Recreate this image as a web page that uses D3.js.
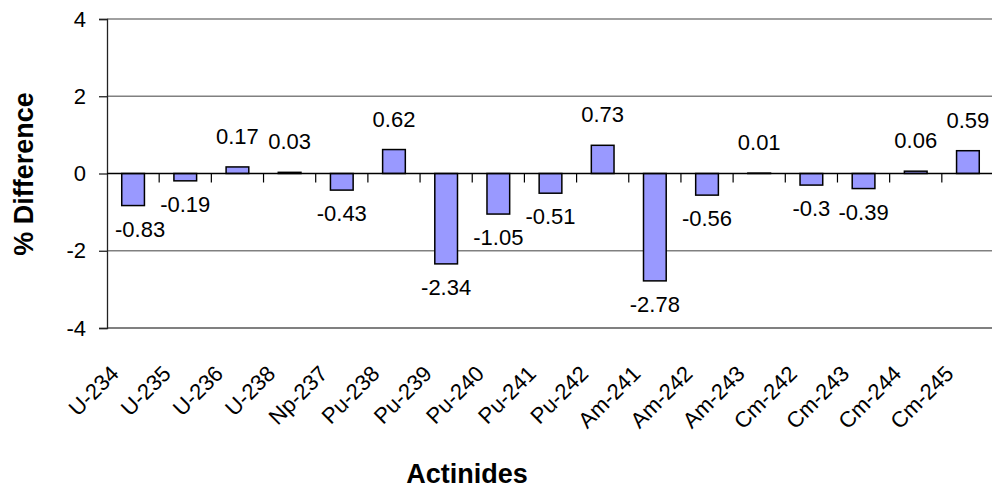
<!DOCTYPE html>
<html><head><meta charset="utf-8">
<script src="https://cdn.jsdelivr.net/npm/d3@7"></script>
<style>
body{margin:0;background:#fff;}
text{font-family:"Liberation Sans",Arial,sans-serif;}
</style></head>
<body><svg id="c" width="992" height="489"></svg>
<script>
const categories = ["U-234","U-235","U-236","U-238","Np-237","Pu-238","Pu-239","Pu-240","Pu-241","Pu-242","Am-241","Am-242","Am-243","Cm-242","Cm-243","Cm-244","Cm-245"];
const values = [-0.83,-0.19,0.17,0.03,-0.43,0.62,-2.34,-1.05,-0.51,0.73,-2.78,-0.56,0.01,-0.3,-0.39,0.06,0.59];
const yTicks = [-4,-2,0,2,4];
const xTitle = "Actinides";
const yTitle = "% Difference";

const svg = d3.select("#c");
const L = 107, R = 994, T = 19, B = 328;
const FS = 22;
const x = d3.scaleBand().domain(categories).range([L, R]).paddingInner(0.565).paddingOuter(0.2825);
const step = x.step();
const y = d3.scaleLinear().domain([-4, 4]).range([B, T]);

// gridlines
svg.append("g").selectAll("line").data(yTicks.filter(d => d !== 0)).join("line")
  .attr("x1", L).attr("x2", R).attr("y1", d => y(d)).attr("y2", d => y(d))
  .attr("stroke", "#808080").attr("stroke-width", d => d === -4 ? 2 : 1.3);

// bars
svg.append("g").selectAll("rect").data(values).join("rect")
  .attr("x", (d, i) => x(categories[i]))
  .attr("width", x.bandwidth())
  .attr("y", d => Math.min(y(d), y(0)))
  .attr("height", d => Math.abs(y(d) - y(0)))
  .attr("fill", "#9999FF").attr("stroke", "#000").attr("stroke-width", 1.5);

// y axis
const yAxis = d3.axisLeft(y).tickValues(yTicks).tickSize(8).tickPadding(13).tickFormat(d => String(d));
const gy = svg.append("g").attr("transform", `translate(${L},0)`).call(yAxis);
gy.select(".domain").attr("stroke", "#222").attr("stroke-width", 1.3);
gy.selectAll(".tick line").attr("stroke", "#222").attr("stroke-width", 1.3);
gy.selectAll(".tick text").attr("font-size", FS).attr("fill", "#000")
  .attr("font-family", "'Liberation Sans', Arial, sans-serif");

// zero axis line + category-boundary ticks
svg.append("line").attr("x1", L).attr("x2", R).attr("y1", y(0)).attr("y2", y(0))
  .attr("stroke", "#000").attr("stroke-width", 1.3);
svg.append("g").selectAll("line").data(d3.range(1, categories.length + 1)).join("line")
  .attr("x1", i => L + i * step).attr("x2", i => L + i * step)
  .attr("y1", y(0)).attr("y2", y(0) + 9)
  .attr("stroke", "#000").attr("stroke-width", 1.2);

// data labels
svg.append("g").selectAll("text").data(values).join("text")
  .attr("x", (d, i) => x(categories[i]) + x.bandwidth() / 2)
  .attr("y", d => d < 0 ? y(d) + 31 : y(d) - 23)
  .attr("text-anchor", "middle").attr("font-size", FS).attr("fill", "#000")
  .text(d => String(d))
  .each(function() {
    const bb = this.getBBox();
    if (bb.x < L + 8) d3.select(this).attr("x", +d3.select(this).attr("x") + (L + 8 - bb.x));
  });

// x category labels
svg.append("g").selectAll("text").data(categories).join("text")
  .attr("transform", d => `translate(${x(d) + x.bandwidth() / 2 - 13},375) rotate(-45)`)
  .attr("text-anchor", "end").attr("font-size", FS).attr("fill", "#000")
  .text(d => d);

// titles
svg.append("text").attr("x", 467).attr("y", 483).attr("text-anchor", "middle")
  .attr("font-size", 27).attr("font-weight", "bold").text(xTitle);
svg.append("text").attr("transform", "translate(33,174) rotate(-90)").attr("text-anchor", "middle")
  .attr("font-size", 27).attr("font-weight", "bold").text(yTitle);
</script></body></html>
